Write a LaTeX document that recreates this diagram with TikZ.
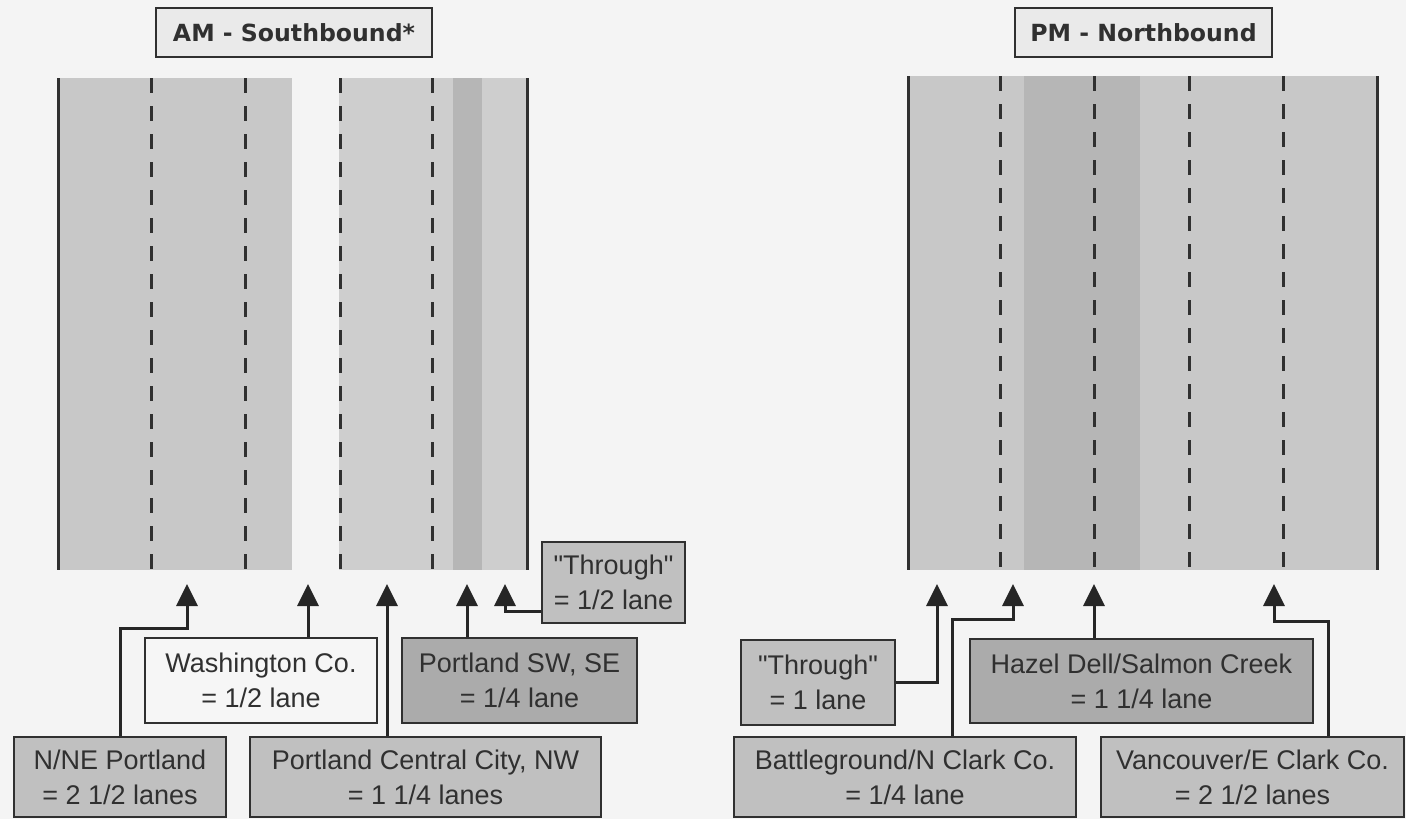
\documentclass[tikz,border=0pt]{standalone}
\usepackage{fontspec}
\setmainfont{Liberation Sans}
\newfontfamily\titlefont{DejaVu Sans}
\usetikzlibrary{arrows.meta}
\definecolor{paper}{HTML}{F4F4F4}
\definecolor{road}{HTML}{C8C8C8}
\definecolor{roadlight}{HTML}{CECECE}
\definecolor{roaddark}{HTML}{B6B6B6}
\definecolor{boxgray}{HTML}{C0C0C0}
\definecolor{boxdark}{HTML}{ABABAB}
\definecolor{boxwhite}{HTML}{F6F6F6}
\definecolor{titlegray}{HTML}{EAEAEA}
\definecolor{ink}{HTML}{303030}

\begin{document}
\begin{tikzpicture}[x=0.5pt,y=-0.5pt,
    lbl/.style={draw=ink,line width=1pt,fill=boxgray,text=ink,align=center,inner sep=0pt,
      font=\fontsize{13.5}{17.5}\selectfont},
    ttl/.style={draw=ink,line width=1pt,fill=titlegray,text=ink,inner sep=0pt,
      minimum height=24.5pt,font=\titlefont\bfseries\fontsize{11.8}{14}\selectfont},
    flow/.style={draw=black!85,line width=1.5pt,-{Triangle[width=10.5pt,length=11pt]}},
    edgeline/.style={draw=ink,line width=1.5pt},
    laneline/.style={draw=ink,line width=1.5pt,dash pattern=on 7.5pt off 6.5pt}]
  \useasboundingbox (0,0) rectangle (1406,819);
  \fill[paper] (0,0) rectangle (1406,819);

  % AM road (southbound)
  \fill[road] (58,78) rectangle (292,570);
  \fill[roadlight] (339,78) rectangle (527,570);
  \fill[roaddark] (453,78) rectangle (482,570);
  \foreach \x in {58,527} \draw[edgeline] (\x,78) -- (\x,570);
  \foreach \x in {151,245,340,432} \draw[laneline] (\x,78) -- (\x,570);

  % PM road (northbound)
  \fill[road] (908,76) rectangle (1377,570);
  \fill[roaddark] (1024,76) rectangle (1140,570);
  \foreach \x in {908,1377} \draw[edgeline] (\x,76) -- (\x,570);
  \foreach \x in {1000,1094,1189,1283} \draw[laneline] (\x,76) -- (\x,570);

  % titles
  \node[ttl,minimum width=138pt] (amtitle) at (294,32.5) {AM - Southbound*};
  \node[ttl,minimum width=128.5pt] (pmtitle) at (1143.5,32.5) {PM - Northbound};

  % AM labels
  \node[lbl,minimum width=106pt,minimum height=40pt] (nne) at (120,777) {N/NE Portland\\= 2 1/2 lanes};
  \node[lbl,fill=boxwhite,minimum width=116pt,minimum height=42.5pt] (wash) at (261,680.5) {Washington Co.\\= 1/2 lane};
  \node[lbl,minimum width=175.5pt,minimum height=40pt] (ccity) at (425.5,777) {Portland Central City, NW\\= 1 1/4 lanes};
  \node[lbl,fill=boxdark,minimum width=117.5pt,minimum height=42.5pt] (swse) at (519.5,680.5) {Portland SW, SE\\= 1/4 lane};
  \node[lbl,minimum width=71.5pt,minimum height=40.5pt] (thruam) at (613.5,582.5) {\textquotedbl Through\textquotedbl\\= 1/2 lane};

  % PM labels
  \node[lbl,minimum width=77pt,minimum height=42.5pt] (thrupm) at (818,682.5) {\textquotedbl Through\textquotedbl\\= 1 lane};
  \node[lbl,fill=boxdark,minimum width=171.5pt,minimum height=42pt] (hazel) at (1141.5,681) {Hazel Dell/Salmon Creek\\= 1 1/4 lane};
  \node[lbl,minimum width=171pt,minimum height=40pt] (bground) at (905,777) {Battleground/N Clark Co.\\= 1/4 lane};
  \node[lbl,minimum width=151.5pt,minimum height=40pt] (vanc) at (1252.5,777) {Vancouver/E Clark Co.\\= 2 1/2 lanes};

  % arrow tips under the roads
  \coordinate (tnne) at (187,584);
  \coordinate (twash) at (308,584);
  \coordinate (tccity) at (387,584);
  \coordinate (tswse) at (467,584);
  \coordinate (tthruam) at (505,584);
  \coordinate (tthrupm) at (937,584);
  \coordinate (tbground) at (1013,584);
  \coordinate (thazel) at (1094,584);
  \coordinate (tvanc) at (1274,584);

  % AM arrows
  \draw[flow] (nne.north) -- ++(0,-108) -| (tnne);
  \draw[flow] (twash |- wash.north) -- (twash);
  \draw[flow] (tccity |- ccity.north) -- (tccity);
  \draw[flow] (tswse |- swse.north) -- (tswse);
  \draw[flow] ([yshift=-14.25pt]thruam.west) -| (tthruam);

  % PM arrows
  \draw[flow] (thrupm.east) -| (tthrupm);
  \draw[flow] ([xshift=23.5pt]bground.north) -- ++(0,-117) -| (tbground);
  \draw[flow] (thazel |- hazel.north) -- (thazel);
  \draw[flow] ([xshift=37.75pt]vanc.north) -- ++(0,-115) -| (tvanc);
\end{tikzpicture}
\end{document}
